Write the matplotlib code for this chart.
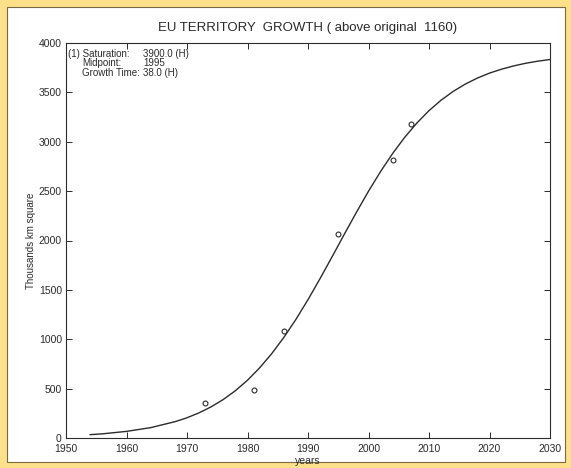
import matplotlib
matplotlib.use("Agg")
import matplotlib.pyplot as plt
from matplotlib.patches import Rectangle

# Observed data (accession steps)
obs_years = [1973, 1981, 1986, 1995, 2004, 2007]
obs_values = [356, 487, 1088, 2070, 2818, 3180]

# Fitted curve
curve_years = [1954, 1956, 1960, 1964, 1968, 1970, 1972, 1974, 1976, 1978, 1980,
               1982, 1984, 1986, 1988, 1990, 1992, 1994, 1996, 1998, 2000, 2002,
               2004, 2006, 2008, 2010, 2012, 2014, 2016, 2018, 2020, 2022, 2024,
               2026, 2028, 2030]
curve_values = [34, 42, 67, 105, 165, 205, 255, 316, 390, 479, 585,
                710, 854, 1018, 1201, 1401, 1615, 1837, 2063, 2285, 2499, 2699,
                2882, 3046, 3190, 3315, 3421, 3510, 3584, 3645, 3695, 3735, 3768,
                3795, 3816, 3833]

x_ticks = [1950, 1960, 1970, 1980, 1990, 2000, 2010, 2020, 2030]
y_ticks = [0, 500, 1000, 1500, 2000, 2500, 3000, 3500, 4000]

title = "EU TERRITORY  GROWTH ( above original  1160)"
info_labels = ["(1) Saturation:", "Midpoint:", "Growth Time:"]
info_values = ["3900.0 (H)", "1995", "38.0 (H)"]

plt.rcParams['font.family'] = ['Liberation Sans', 'DejaVu Sans']
ink = '#2b2b2b'

fig = plt.figure(figsize=(5.71, 4.68), dpi=100)
fig.patch.set_facecolor('#FDE08A')
fig.patches.append(Rectangle((7/571, 1 - 462/468), (565-7)/571, (462-7)/468,
                             transform=fig.transFigure, facecolor='white',
                             edgecolor='#7a6a40', linewidth=0.8, zorder=-10))

ax = fig.add_axes([66/571, 1 - 438/468, (550-66)/571, (438-43)/468])
ax.set_zorder(1)
ax.set_facecolor('white')
ax.plot(curve_years, curve_values, color=ink, linewidth=1.0)
ax.plot(obs_years, obs_values, linestyle='none', marker='o', markersize=3.5,
        markerfacecolor='none', markeredgecolor=ink, markeredgewidth=0.8)

ax.set_xlim(1950, 2030)
ax.set_ylim(0, 4000)
ax.set_xticks(x_ticks)
ax.set_yticks(y_ticks)
ax.tick_params(direction='in', length=4, width=0.7, colors=ink, labelsize=7.5,
               top=True, right=True)
ax.tick_params(axis='x', pad=4)
ax.tick_params(axis='y', pad=3)
for s in ax.spines.values():
    s.set_color(ink)
    s.set_linewidth(0.8)

ax.set_xlabel("years", fontsize=7.5, color=ink, labelpad=1.5)
ax.set_ylabel("Thousands km square", fontsize=7, color=ink, labelpad=2)
fig.text(308/571, 1 - 28/468, title, ha='center', va='center', fontsize=9.5, color=ink)

lx = [68, 82, 82]
for i, (lab, val) in enumerate(zip(info_labels, info_values)):
    y = 54 + i * 9.4
    fig.text(lx[i]/571, 1 - y/468, lab, ha='left', va='center', fontsize=7, color=ink, zorder=5)
    fig.text(143/571, 1 - y/468, val, ha='left', va='center', fontsize=7, color=ink, zorder=5)

fig.savefig("out.png", dpi=100, facecolor=fig.get_facecolor())
